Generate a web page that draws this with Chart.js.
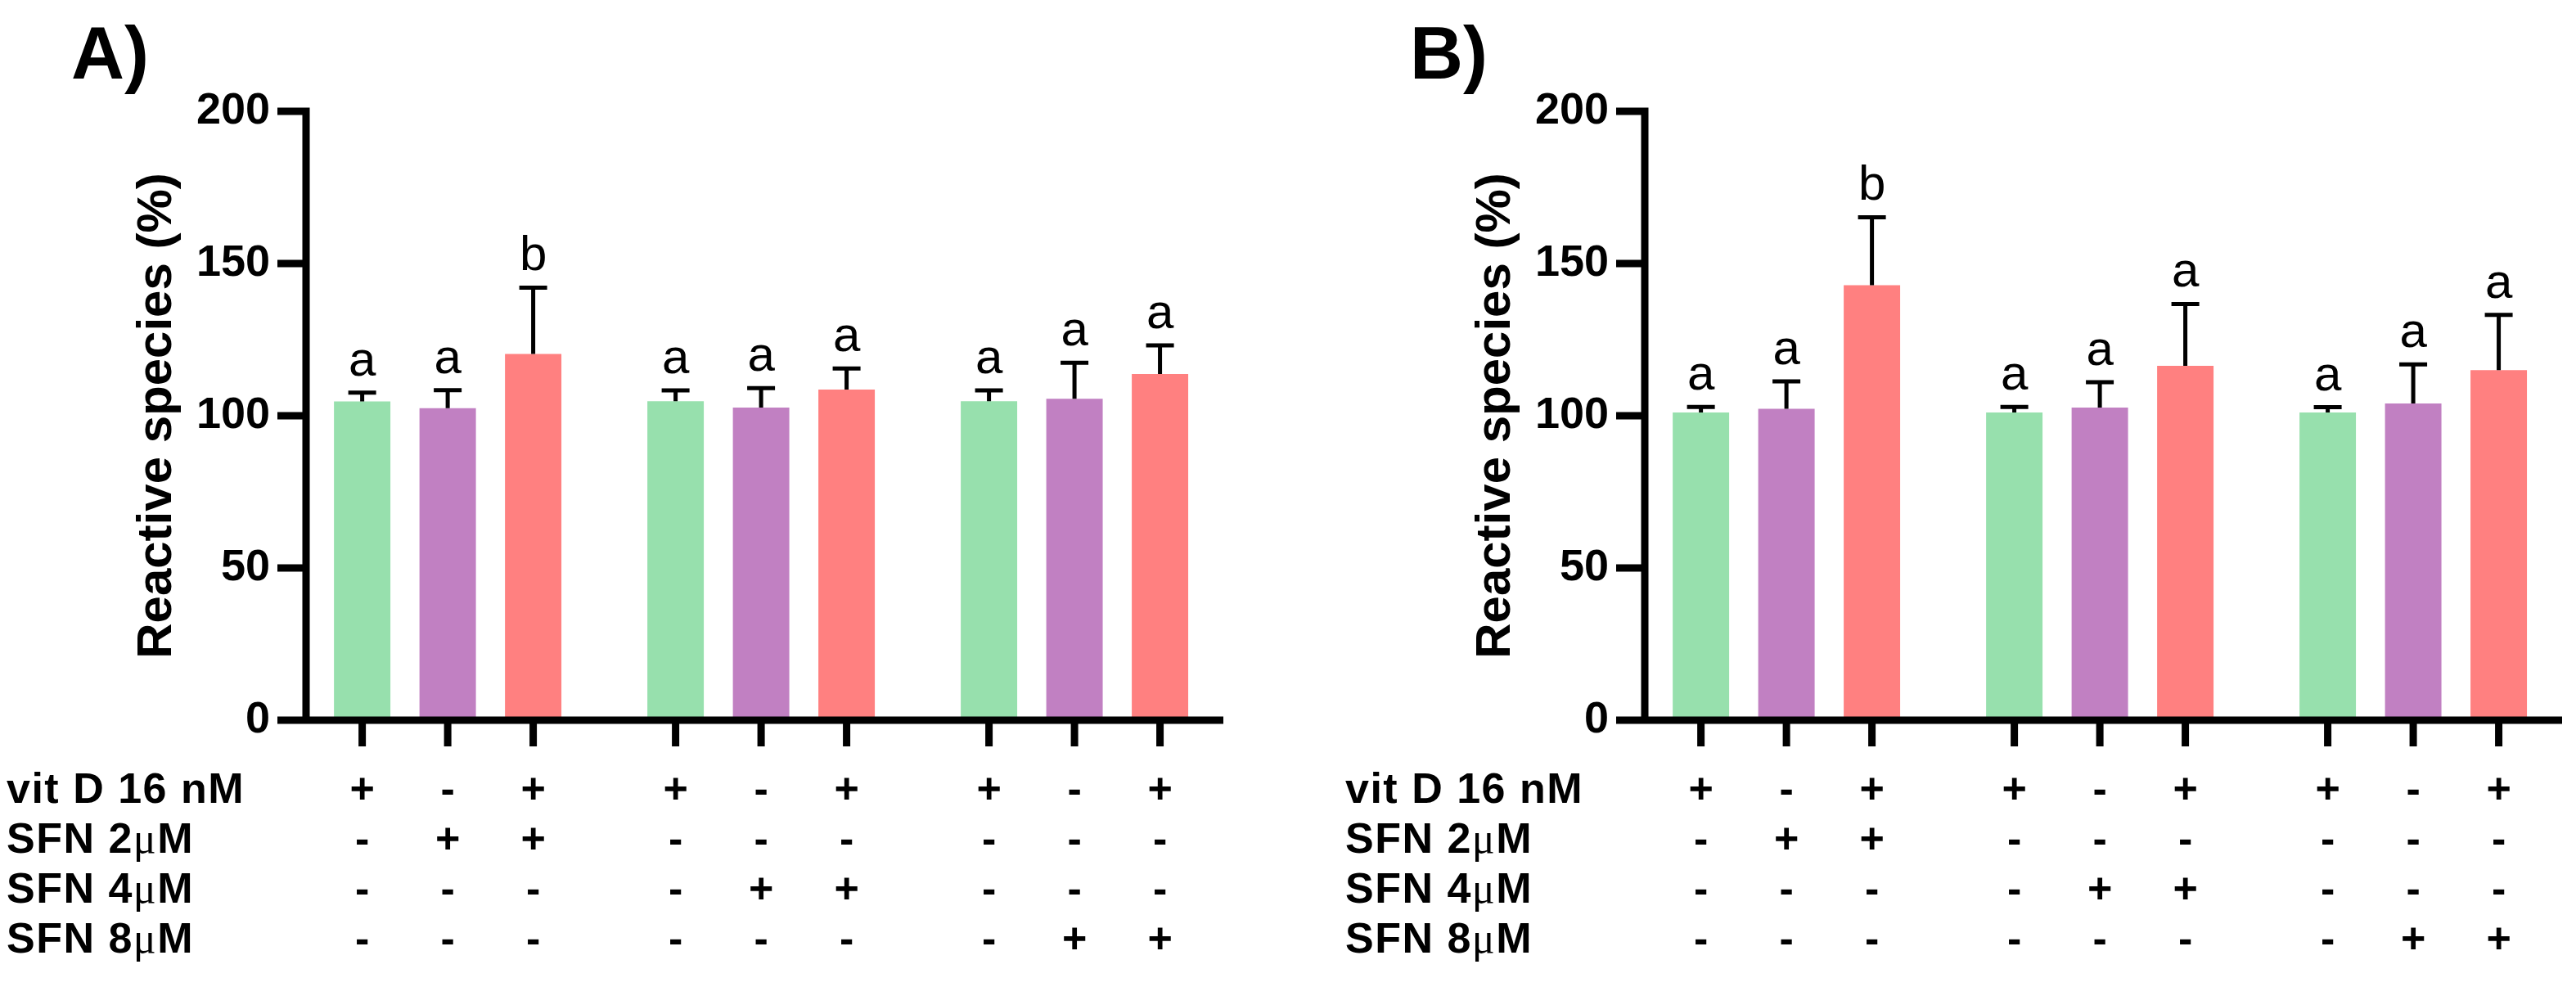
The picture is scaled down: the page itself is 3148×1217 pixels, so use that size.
<!DOCTYPE html>
<html>
<head>
<meta charset="utf-8">
<script src="https://cdn.jsdelivr.net/npm/chart.js@4.4.1/dist/chart.umd.min.js"></script>
<style>
  html, body { margin: 0; padding: 0; background: #fff; }
  #wrap { position: relative; width: 3148px; height: 1217px; background: #fff; overflow: hidden; }
  canvas { position: absolute; top: 0; }
  #chartA { left: 0; }
  #chartB { left: 1636px; }
</style>
</head>
<body>
<div id="wrap">
  <canvas id="chartA" width="1512" height="1217"></canvas>
  <canvas id="chartB" width="1512" height="1217"></canvas>
</div>
<script>
// x groups (one block of three bars each)
const groups = [1, 2, 3];
const seriesNames = ['vit D 16 nM', 'SFN', 'vit D 16 nM + SFN'];
const seriesColors = ['#97E0AD', '#C180C2', '#FF8080'];
const yTicks = [0, 50, 100, 150, 200];

// panel A values (%)
const aVitD = [104.7, 104.8, 104.8];
const aSfn = [102.5, 102.7, 105.6];
const aCombo = [120.3, 108.6, 113.7];
const aVitDErr = [2.9, 3.5, 3.5];
const aSfnErr = [5.9, 6.4, 11.8];
const aComboErr = [21.8, 6.9, 9.4];
const aVitDLetters = ['a', 'a', 'a'];
const aSfnLetters = ['a', 'a', 'a'];
const aComboLetters = ['b', 'a', 'a'];

// panel B values (%)
const bVitD = [101.1, 101.1, 101.1];
const bSfn = [102.3, 102.7, 104.0];
const bCombo = [142.9, 116.4, 115.0];
const bVitDErr = [1.8, 1.8, 1.7];
const bSfnErr = [9.0, 8.3, 12.9];
const bComboErr = [22.3, 20.3, 18.1];
const bVitDLetters = ['a', 'a', 'a'];
const bSfnLetters = ['a', 'a', 'a'];
const bComboLetters = ['b', 'a', 'a'];

// treatment table under the bars (one entry per bar, left to right)
const rowLabels = ['vit D 16 nM', 'SFN 2μM', 'SFN 4μM', 'SFN 8μM'];
const rowVitD = ['+', '-', '+', '+', '-', '+', '+', '-', '+'];
const rowSfn2 = ['-', '+', '+', '-', '-', '-', '-', '-', '-'];
const rowSfn4 = ['-', '-', '-', '-', '+', '+', '-', '-', '-'];
const rowSfn8 = ['-', '-', '-', '-', '-', '-', '-', '+', '+'];
const tableRows = [rowVitD, rowSfn2, rowSfn4, rowSfn8];

const SANS = '"Liberation Sans", Arial, Helvetica, sans-serif';
const bold = size => `bold ${size}px ${SANS}`;

const errorBars = {
  id: 'errorBars',
  afterDatasetsDraw(chart) {
    const ctx = chart.ctx;
    const yScale = chart.scales.y;
    ctx.save();
    ctx.strokeStyle = '#000';
    ctx.fillStyle = '#000';
    ctx.lineWidth = 5;
    ctx.font = `60px ${SANS}`;
    ctx.textAlign = 'center';
    ctx.textBaseline = 'alphabetic';
    chart.data.datasets.forEach((ds, d) => {
      chart.getDatasetMeta(d).data.forEach((bar, i) => {
        const top = yScale.getPixelForValue(ds.data[i] + ds.errors[i]);
        ctx.beginPath();
        ctx.moveTo(bar.x, bar.y);
        ctx.lineTo(bar.x, top);
        ctx.moveTo(bar.x - 17, top);
        ctx.lineTo(bar.x + 17, top);
        ctx.stroke();
        ctx.fillText(ds.letters[i], bar.x, top - 21);
      });
    });
    ctx.restore();
  }
};

function drawRowLabel(ctx, text, x, y) {
  const parts = text.split('μ');
  let cx = x;
  ctx.letterSpacing = '1.5px';
  parts.forEach((p, k) => {
    if (k > 0) {
      ctx.font = '52px "Liberation Serif", "DejaVu Serif", serif';
      ctx.fillText('μ', cx, y);
      cx += ctx.measureText('μ').width;
    }
    ctx.font = bold(52);
    ctx.fillText(p, cx, y);
    cx += ctx.measureText(p).width;
  });
  ctx.letterSpacing = '0px';
}

const prismAxes = {
  id: 'prismAxes',
  afterDraw(chart, args, opts) {
    const ctx = chart.ctx;
    const { left, right } = chart.chartArea;
    const yScale = chart.scales.y;
    const y0 = yScale.getPixelForValue(0);
    const yTop = yScale.getPixelForValue(yTicks[yTicks.length - 1]);
    ctx.save();
    ctx.strokeStyle = '#000';
    ctx.fillStyle = '#000';
    ctx.lineWidth = 9;
    ctx.beginPath();
    // y axis + ticks
    ctx.moveTo(left, yTop - 4.5);
    ctx.lineTo(left, y0);
    yTicks.forEach(v => {
      const py = yScale.getPixelForValue(v);
      ctx.moveTo(left - 35, py);
      ctx.lineTo(left, py);
    });
    // x axis
    ctx.moveTo(left - 35, y0);
    ctx.lineTo(right, y0);
    ctx.stroke();

    // one tick and one table column per bar
    const bars = [];
    chart.data.datasets.forEach((ds, d) => {
      chart.getDatasetMeta(d).data.forEach((bar, i) => {
        bars[i * 3 + d] = bar.x;
      });
    });
    ctx.beginPath();
    bars.forEach(x => {
      ctx.moveTo(x, y0);
      ctx.lineTo(x, y0 + 32);
    });
    ctx.stroke();

    const baselines = [981, 1042, 1103, 1164];
    ctx.textBaseline = 'alphabetic';
    tableRows.forEach((row, r) => {
      ctx.textAlign = 'left';
      drawRowLabel(ctx, rowLabels[r], 8, baselines[r]);
      ctx.textAlign = 'center';
      ctx.font = bold(52);
      row.forEach((s, c) => ctx.fillText(s, bars[c], baselines[r]));
    });

    // panel letter
    ctx.textAlign = 'left';
    ctx.font = bold(90);
    ctx.fillText(opts.letter, 87, 96);
    ctx.restore();
  }
};

function makePanel(id, letter, values, errors, letters) {
  return new Chart(document.getElementById(id), {
    type: 'bar',
    data: {
      labels: groups,
      datasets: values.map((v, k) => ({
        label: seriesNames[k],
        data: v,
        errors: errors[k],
        letters: letters[k],
        backgroundColor: seriesColors[k],
        borderWidth: 0,
        categoryPercentage: 0.8185,
        barPercentage: 0.66
      }))
    },
    options: {
      responsive: false,
      animation: false,
      devicePixelRatio: 1,
      layout: { padding: { left: 0, right: 17, top: 136, bottom: 337 } },
      plugins: {
        legend: { display: false },
        tooltip: { enabled: false },
        prismAxes: { letter: letter }
      },
      scales: {
        x: {
          type: 'linear',
          display: false,
          offset: false,
          grace: 0,
          min: 0.548,
          max: 3.475,
          afterBuildTicks: s => { s.ticks = groups.map(v => ({ value: v })); }
        },
        y: {
          min: 0,
          max: 200,
          afterFit: s => { s.width = 374; },
          afterBuildTicks: s => { s.ticks = yTicks.map(v => ({ value: v })); },
          grid: { display: false, drawTicks: false },
          border: { display: false },
          ticks: {
            color: '#000',
            padding: 44,
            font: { family: SANS, size: 54, weight: 'bold' }
          },
          title: {
            display: true,
            text: 'Reactive species (%)',
            color: '#000',
            font: { family: SANS, size: 60, weight: 'bold' },
            padding: { top: 156, bottom: 0 }
          }
        }
      }
    },
    plugins: [errorBars, prismAxes]
  });
}

makePanel('chartA', 'A)',
  [aVitD, aSfn, aCombo],
  [aVitDErr, aSfnErr, aComboErr],
  [aVitDLetters, aSfnLetters, aComboLetters]);

makePanel('chartB', 'B)',
  [bVitD, bSfn, bCombo],
  [bVitDErr, bSfnErr, bComboErr],
  [bVitDLetters, bSfnLetters, bComboLetters]);
</script>
</body>
</html>
